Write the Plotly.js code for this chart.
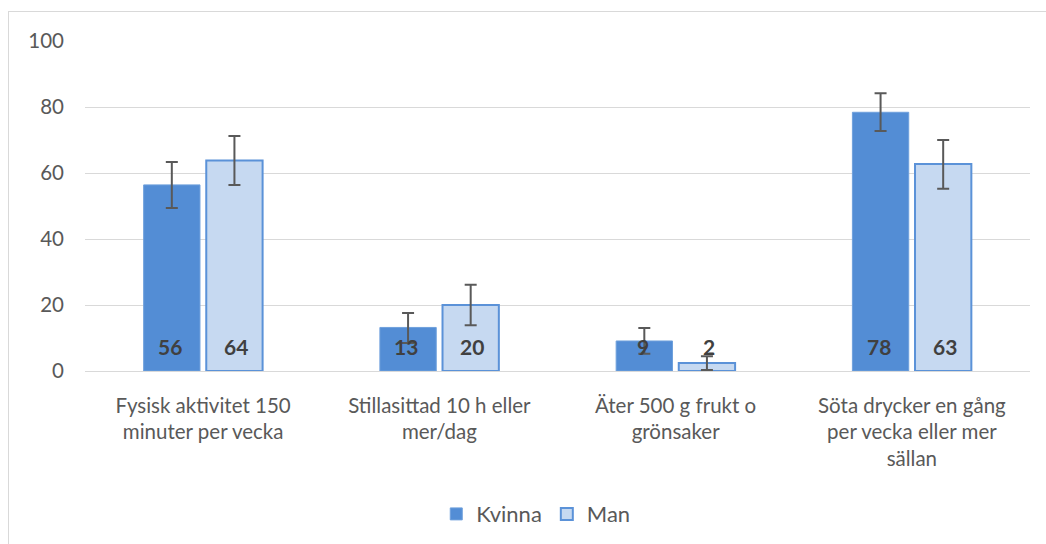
<!DOCTYPE html>
<html>
<head>
<meta charset="utf-8">
<script src="https://cdn.plot.ly/plotly-3.0.1.min.js"></script>
<style>
html,body{margin:0;padding:0;background:#fff;}
#frame{position:absolute;left:8px;top:11px;width:1060px;height:560px;border:1px solid #d9d9d9;box-sizing:border-box;}
#chart{position:absolute;left:0;top:0;width:1046px;height:544px;}
</style>
</head>
<body>
<div id="frame"></div>
<div id="chart"></div>
<script>
const categories = [
  "Fysisk aktivitet 150<br>minuter per vecka",
  "Stillasittad 10 h eller<br>mer/dag",
  "Äter 500 g frukt o<br>grönsaker",
  "Söta drycker en gång<br>per vecka eller mer<br>sällan"
];
const kvinna = [56.4, 13.2, 9.1, 78.4];
const kvinnaUpper = [63.3, 17.6, 13.0, 84.2];
const kvinnaLower = [49.4, 8.5, 5.2, 72.7];
const man = [63.8, 20.0, 2.4, 62.7];
const manUpper = [71.2, 26.1, 4.5, 70.0];
const manLower = [56.4, 13.9, 0.3, 55.2];
const yTicks = [0, 20, 40, 60, 80, 100];

const font = "Lato, 'Open Sans', sans-serif";

const traceK = {
  type: 'bar', name: 'Kvinna', x: categories, y: kvinna,
  marker: {color: '#538dd5', line: {color: '#6fa0dc', width: 1}},
  error_y: {type: 'data', symmetric: false,
    array: kvinnaUpper.map((u, i) => u - kvinna[i]),
    arrayminus: kvinna.map((v, i) => v - kvinnaLower[i]),
    color: '#595959', thickness: 2, width: 6},
  hoverinfo: 'none'
};
const traceM = {
  type: 'bar', name: 'Man', x: categories, y: man,
  marker: {color: '#c6d9f1', line: {color: '#5b92d8', width: 2}},
  error_y: {type: 'data', symmetric: false,
    array: manUpper.map((u, i) => u - man[i]),
    arrayminus: man.map((v, i) => v - manLower[i]),
    color: '#595959', thickness: 2, width: 6},
  hoverinfo: 'none'
};

const annotations = [];
categories.forEach((c, i) => {
  annotations.push({x: c, y: 7.4, xref: 'x', yref: 'y', xshift: -33, text: '<b>' + Math.round(kvinna[i]) + '</b>',
    showarrow: false, font: {family: font, size: 21, color: '#404040'}});
  annotations.push({x: c, y: 7.4, xref: 'x', yref: 'y', xshift: 33, text: '<b>' + Math.round(man[i]) + '</b>',
    showarrow: false, font: {family: font, size: 21, color: '#404040'}});
});

const layout = {
  width: 1046, height: 544,
  margin: {l: 85, r: 16, t: 41, b: 173},
  paper_bgcolor: 'rgba(0,0,0,0)', plot_bgcolor: 'rgba(0,0,0,0)',
  font: {family: font, size: 20, color: '#595959'},
  barmode: 'group', bargap: 0.47, bargroupgap: 0.1,
  xaxis: {type: 'category', showgrid: false, showline: true, linecolor: '#d9d9d9', linewidth: 1,
    automargin: false,
    ticks: '', ticklabelstandoff: 16, tickfont: {family: font, size: 20.5, color: '#595959'}},
  yaxis: {range: [0, 100], tickvals: yTicks, showgrid: true, gridcolor: '#d9d9d9', gridwidth: 1,
    automargin: false,
    zeroline: false, showline: false, ticks: '', ticklabelstandoff: 20,
    tickfont: {family: font, size: 20.5, color: '#595959'}},
  legend: {orientation: 'h', x: 0.477, xanchor: 'center', yref: 'container', y: 0.055, yanchor: 'middle',
    font: {family: font, size: 22, color: '#595959'}, itemwidth: 30, traceorder: 'normal'},
  annotations: annotations,
  showlegend: true
};

Plotly.newPlot('chart', [traceK, traceM], layout, {displayModeBar: false, staticPlot: true});
</script>
</body>
</html>
